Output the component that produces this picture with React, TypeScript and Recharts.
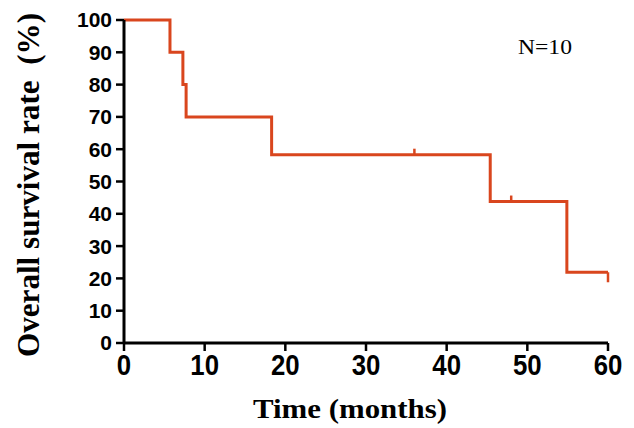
import React from "react";
import {
  ComposedChart,
  Line,
  Scatter,
  XAxis,
  YAxis,
  Label,
} from "recharts";

// Kaplan-Meier steps (months, survival %)
const stepTimes = [0, 5.7, 7.3, 7.7, 18.3, 45.4, 54.9, 60];
const stepSurvival = [100, 90, 80, 70, 58.3, 43.8, 21.9, 21.9];

// censored observations (tick marks on the curve)
const censorTimes = [36, 48];
const censorSurvival = [58.3, 43.8];
const endCensorTimes = [60];
const endCensorSurvival = [21.9];

const xTicks = [0, 10, 20, 30, 40, 50, 60];
const yTicks = [0, 10, 20, 30, 40, 50, 60, 70, 80, 90, 100];

const RED = "#d9461e";

const curve = stepTimes.map((t, i) => ({ t, s: stepSurvival[i] }));
const censors = censorTimes.map((t, i) => ({ t, s: censorSurvival[i] }));
const endCensors = endCensorTimes.map((t, i) => ({ t, s: endCensorSurvival[i] }));

const TickUp = (props: any) => {
  const { cx, cy } = props;
  return <line x1={cx} y1={cy} x2={cx} y2={cy - 6} stroke={RED} strokeWidth={2.5} />;
};

const TickDown = (props: any) => {
  const { cx, cy } = props;
  return <line x1={cx} y1={cy} x2={cx} y2={cy + 10} stroke={RED} strokeWidth={2.5} />;
};

// x tick labels in the original are tall and narrow
const XTick = (props: any) => {
  const { x, y, payload } = props;
  return (
    <g transform={`translate(${x},${y}) scale(0.86,1)`}>
      <text
        x={0}
        y={0}
        dy="0.72em"
        textAnchor="middle"
        fill="#000"
        fontSize={30}
        fontWeight="bold"
        fontFamily="Liberation Sans"
      >
        {payload.value}
      </text>
    </g>
  );
};

export default function App() {
  return (
    <div style={{ position: "absolute", left: 0, top: 0, background: "#fff" }}>
      <ComposedChart
        width={634}
        height={428}
        margin={{ top: 20, right: 26, left: 0, bottom: 0 }}
      >
        <XAxis
          dataKey="t"
          type="number"
          domain={[0, 60]}
          ticks={xTicks}
          height={85}
          axisLine={{ stroke: "#000", strokeWidth: 3 }}
          tickLine={{ stroke: "#000", strokeWidth: 2.5 }}
          tickSize={8}
          tickMargin={2}
          tick={<XTick />}
        >
          <Label
            content={() => (
              <text
                x={350}
                y={418}
                textAnchor="middle"
                textLength={194}
                lengthAdjust="spacingAndGlyphs"
                fontFamily="Liberation Serif"
                fontWeight="bold"
                fontSize={28}
                fill="#000"
              >
                Time (months)
              </text>
            )}
          />
        </XAxis>
        <YAxis
          type="number"
          domain={[0, 100]}
          ticks={yTicks}
          width={124}
          interval={0}
          axisLine={{ stroke: "#000", strokeWidth: 3 }}
          tickLine={{ stroke: "#000", strokeWidth: 2.5 }}
          tickSize={8}
          tickMargin={4}
          tick={{
            fill: "#000",
            fontSize: 21,
            fontWeight: "bold",
            fontFamily: "Liberation Sans",
          }}
        >
          <Label
            content={() => (
              <g>
                <text
                  x={39}
                  y={185}
                  transform="rotate(-90 39 185)"
                  textAnchor="middle"
                  textLength={344}
                  lengthAdjust="spacingAndGlyphs"
                  fontFamily="Liberation Serif"
                  fontWeight="bold"
                  fontSize={31}
                  fill="#000"
                  style={{ whiteSpace: "pre" }}
                >
                  {"Overall survival rate  (%)"}
                </text>
                <text
                  x={518}
                  y={54}
                  textLength={54}
                  lengthAdjust="spacingAndGlyphs"
                  fontFamily="Liberation Serif"
                  fontSize={20}
                  fill="#000"
                >
                  N=10
                </text>
              </g>
            )}
          />
        </YAxis>
        <Line
          data={curve}
          dataKey="s"
          type="stepAfter"
          stroke={RED}
          strokeWidth={3}
          dot={false}
          activeDot={false}
          isAnimationActive={false}
        />
        <Scatter
          data={censors}
          dataKey="s"
          shape={<TickUp />}
          isAnimationActive={false}
        />
        <Scatter
          data={endCensors}
          dataKey="s"
          shape={<TickDown />}
          isAnimationActive={false}
        />
      </ComposedChart>
    </div>
  );
}
